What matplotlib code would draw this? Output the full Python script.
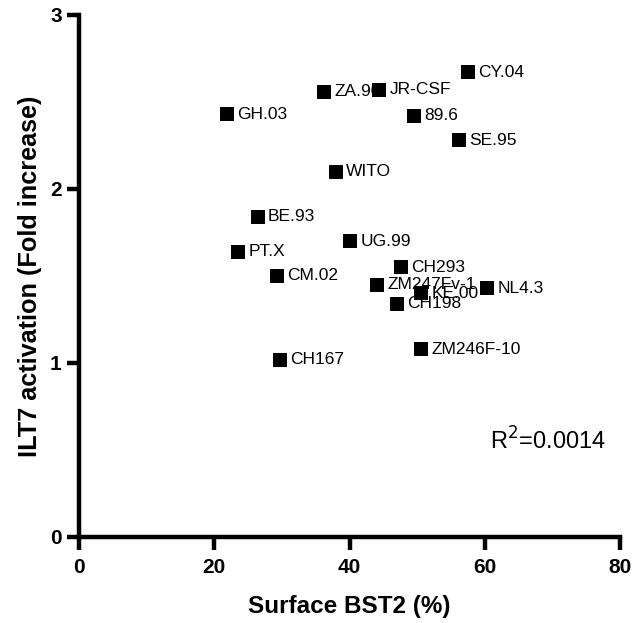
import matplotlib
matplotlib.use("Agg")
import matplotlib.pyplot as plt

plt.rcParams['font.family'] = ['Liberation Sans', 'DejaVu Sans']

names = ["CY.04", "JR-CSF", "ZA.90", "GH.03", "89.6", "SE.95", "WITO", "BE.93",
         "UG.99", "PT.X", "CM.02", "CH293", "ZM247Fv-1", "KE.00", "NL4.3",
         "CH198", "ZM246F-10", "CH167"]
bst2 = [57.5, 44.4, 36.3, 21.9, 49.5, 56.2, 38.0, 26.4,
        40.1, 23.5, 29.3, 47.6, 44.1, 50.6, 60.4,
        47.0, 50.6, 29.7]
ilt7 = [2.67, 2.57, 2.56, 2.43, 2.42, 2.28, 2.10, 1.84,
        1.70, 1.64, 1.50, 1.55, 1.45, 1.40, 1.43,
        1.34, 1.08, 1.02]

fig = plt.figure(figsize=(6.33, 6.23), dpi=100)
ax = fig.add_axes([79/633, 1-537/623, 541/633, 522/623])

ax.scatter(bst2, ilt7, marker='s', s=100, color='black', zorder=3, linewidths=0)
for n, x, y in zip(names, bst2, ilt7):
    ax.annotate(n, (x, y), xytext=(7.5, 0), textcoords='offset points',
                va='center', ha='left', fontsize=12.5, zorder=2)

ax.set_xlim(0, 80)
ax.set_ylim(0, 3)
ax.set_xticks([0, 20, 40, 60, 80])
ax.set_yticks([0, 1, 2, 3])
for s in ['top', 'right']:
    ax.spines[s].set_visible(False)
for s in ['left', 'bottom']:
    ax.spines[s].set_linewidth(3.2)
    ax.spines[s].set_capstyle('projecting')
ax.tick_params(width=3.2, length=9, labelsize=15)
ax.tick_params(axis='x', pad=6)
ax.tick_params(axis='y', pad=3.5)
for lab in ax.get_xticklabels() + ax.get_yticklabels():
    lab.set_fontweight('bold')
ax.set_xlabel("Surface BST2 (%)", fontsize=17.5, fontweight='bold', labelpad=13)
ax.set_ylabel("ILT7 activation (Fold increase)", fontsize=18.2, fontweight='bold', labelpad=6)
ax.text(69.3, 0.55, r"R$^2$=0.0014", fontsize=17, ha='center', va='center')

fig.savefig("out.png", dpi=100)
